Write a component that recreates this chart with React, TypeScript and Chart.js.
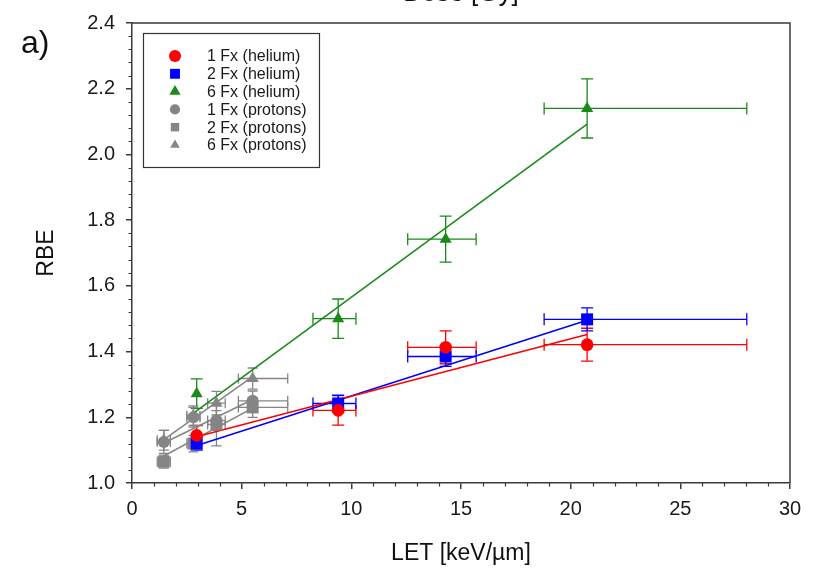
import React, { useEffect, useRef } from 'react';
import { Chart, registerables } from 'chart.js';

Chart.register(...registerables);

const FONT = '"Liberation Sans", Arial, Helvetica, sans-serif';

// ---- data ----
const LET_HE = [2.95, 9.4, 14.3, 20.75];
const LET_HE_XERR_LO = [0, 1.15, 1.73, 1.96];
const LET_HE_XERR_HI = [0, 0.81, 1.39, 7.28];
const RBE_HE_1FX = [1.145, 1.221, 1.413, 1.421];
const ERR_HE_1FX = [0.03, 0.045, 0.05, 0.05];
const RBE_HE_2FX = [1.12, 1.242, 1.385, 1.498];
const ERR_HE_2FX = [0.02, 0.025, 0.03, 0.035];
const RBE_HE_6FX = [1.272, 1.5, 1.742, 2.14];
const ERR_HE_6FX = [0.045, 0.06, 0.07, 0.09];

const LET_P = [1.45, 2.8, 3.85, 5.5];
const LET_P_XERR_LO = [0.3, 0.3, 0.4, 0.65];
const LET_P_XERR_HI = [0.3, 0.3, 0.4, 1.6];
const RBE_P_1FX = [1.125, 1.2, 1.19, 1.25];
const ERR_P_1FX = [0.035, 0.03, 0.03, 0.03];
const RBE_P_2FX = [1.065, 1.12, 1.178, 1.23];
const ERR_P_2FX = [0.02, 0.025, 0.065, 0.03];
const RBE_P_6FX = [1.13, 1.205, 1.243, 1.318];
const ERR_P_6FX = [0.03, 0.03, 0.036, 0.032];

const FIT_HE_X = [2.85, 20.75];
const FIT_HE_1FX = [1.139, 1.452];
const FIT_HE_2FX = [1.112, 1.495];
const FIT_HE_6FX = [1.215, 2.092];
const FIT_P_X = [1.45, 5.5];
const FIT_P_1FX = [1.122, 1.254];
const FIT_P_2FX = [1.082, 1.228];
const FIT_P_6FX = [1.132, 1.324];

const X_TICKS = [0, 5, 10, 15, 20, 25, 30];
const Y_TICKS = [1.0, 1.2, 1.4, 1.6, 1.8, 2.0, 2.2, 2.4];

const RED = '#ff0000';
const BLUE = '#0000ff';
const GREEN = '#1b8a1b';
const GREY = '#858585';
const AXIS = '#3a3a3a';

type Series = {
  label: string;
  x: number[];
  y: number[];
  err: number[];
  xlo: number[];
  xhi: number[];
  color: string;
  style: 'circle' | 'rect' | 'triangle';
  radius: number;
  fitX: number[];
  fitY: number[];
};

const SERIES: Series[] = [
  { label: '1 Fx (helium)', x: LET_HE, y: RBE_HE_1FX, err: ERR_HE_1FX, xlo: LET_HE_XERR_LO, xhi: LET_HE_XERR_HI, color: RED, style: 'circle', radius: 6.3, fitX: FIT_HE_X, fitY: FIT_HE_1FX },
  { label: '2 Fx (helium)', x: LET_HE, y: RBE_HE_2FX, err: ERR_HE_2FX, xlo: LET_HE_XERR_LO, xhi: LET_HE_XERR_HI, color: BLUE, style: 'rect', radius: 8.5, fitX: FIT_HE_X, fitY: FIT_HE_2FX },
  { label: '6 Fx (helium)', x: LET_HE, y: RBE_HE_6FX, err: ERR_HE_6FX, xlo: LET_HE_XERR_LO, xhi: LET_HE_XERR_HI, color: GREEN, style: 'triangle', radius: 7, fitX: FIT_HE_X, fitY: FIT_HE_6FX },
  { label: '1 Fx (protons)', x: LET_P, y: RBE_P_1FX, err: ERR_P_1FX, xlo: LET_P_XERR_LO, xhi: LET_P_XERR_HI, color: GREY, style: 'circle', radius: 6, fitX: FIT_P_X, fitY: FIT_P_1FX },
  { label: '2 Fx (protons)', x: LET_P, y: RBE_P_2FX, err: ERR_P_2FX, xlo: LET_P_XERR_LO, xhi: LET_P_XERR_HI, color: GREY, style: 'rect', radius: 8.5, fitX: FIT_P_X, fitY: FIT_P_2FX },
  { label: '6 Fx (protons)', x: LET_P, y: RBE_P_6FX, err: ERR_P_6FX, xlo: LET_P_XERR_LO, xhi: LET_P_XERR_HI, color: GREY, style: 'triangle', radius: 7, fitX: FIT_P_X, fitY: FIT_P_6FX },
];

function drawMarker(ctx: CanvasRenderingContext2D, style: string, x: number, y: number, r: number, color: string) {
  ctx.save();
  ctx.fillStyle = color;
  ctx.beginPath();
  if (style === 'circle') {
    ctx.arc(x, y, r, 0, Math.PI * 2);
  } else if (style === 'rect') {
    const s = r * Math.SQRT1_2;
    ctx.rect(x - s, y - s, 2 * s, 2 * s);
  } else {
    const a = (2 * Math.PI) / 3;
    ctx.moveTo(x, y - r);
    ctx.lineTo(x + Math.sin(a) * r, y - Math.cos(a) * r);
    ctx.lineTo(x + Math.sin(2 * a) * r, y - Math.cos(2 * a) * r);
    ctx.closePath();
  }
  ctx.fill();
  ctx.restore();
}

const errorBarPlugin = {
  id: 'errorBars',
  beforeDatasetsDraw(chart: any) {
    const { ctx, scales } = chart;
    const xs = scales.x;
    const ys = scales.y;
    chart.data.datasets.forEach((ds: any) => {
      const s: Series | undefined = ds._series;
      if (!s) return;
      ctx.save();
      ctx.strokeStyle = s.color;
      ctx.lineWidth = 1.3;
      const cap = s.color === GREY ? 5 : 6;
      s.x.forEach((xv, i) => {
        const yv = s.y[i];
        const px = xs.getPixelForValue(xv);
        const py = ys.getPixelForValue(yv);
        const yTop = ys.getPixelForValue(yv + s.err[i]);
        const yBot = ys.getPixelForValue(yv - s.err[i]);
        ctx.beginPath();
        ctx.moveTo(px, yTop);
        ctx.lineTo(px, yBot);
        ctx.moveTo(px - cap, yTop);
        ctx.lineTo(px + cap, yTop);
        ctx.moveTo(px - cap, yBot);
        ctx.lineTo(px + cap, yBot);
        ctx.stroke();
        if (s.xlo[i] > 0 || s.xhi[i] > 0) {
          const xL = xs.getPixelForValue(xv - s.xlo[i]);
          const xR = xs.getPixelForValue(xv + s.xhi[i]);
          ctx.beginPath();
          ctx.moveTo(xL, py);
          ctx.lineTo(xR, py);
          ctx.moveTo(xL, py - cap);
          ctx.lineTo(xL, py + cap);
          ctx.moveTo(xR, py - cap);
          ctx.lineTo(xR, py + cap);
          ctx.stroke();
        }
      });
      ctx.restore();
    });
  },
};

const decorPlugin = {
  id: 'decor',
  afterDraw(chart: any) {
    const { ctx, chartArea, scales } = chart;
    const { left, right, top, bottom } = chartArea;
    ctx.save();
    // frame top & right
    ctx.strokeStyle = AXIS;
    ctx.lineWidth = 1.5;
    ctx.beginPath();
    ctx.moveTo(left, top);
    ctx.lineTo(right, top);
    ctx.lineTo(right, bottom);
    ctx.stroke();
    // minor ticks
    ctx.lineWidth = 1.2;
    ctx.beginPath();
    for (let v = 0; v <= 30; v += 1) {
      if (v % 5 === 0) continue;
      const px = Math.round(scales.x.getPixelForValue(v)) + 0.5;
      ctx.moveTo(px, bottom);
      ctx.lineTo(px, bottom + 3.5);
    }
    for (let k = 0; k <= 35; k++) {
      if (k % 5 === 0) continue;
      const py = Math.round(scales.y.getPixelForValue(1 + k * 0.04)) + 0.5;
      ctx.moveTo(left, py);
      ctx.lineTo(left - 3.5, py);
    }
    ctx.stroke();

    // legend
    const bx = 143, by = 33, bw = 176, bh = 134;
    ctx.fillStyle = '#ffffff';
    ctx.fillRect(bx, by, bw, bh);
    ctx.strokeStyle = '#333';
    ctx.lineWidth = 1.2;
    ctx.strokeRect(bx + 0.5, by + 0.5, bw, bh);
    ctx.font = `16px ${FONT}`;
    ctx.textBaseline = 'middle';
    ctx.textAlign = 'left';
    SERIES.forEach((s, i) => {
      const y = 56 + i * 17.8;
      const r = s.style === 'circle' ? 6 : s.style === 'rect' ? 7 : 6.5;
      drawMarker(ctx, s.style, 175, y, s.color === GREY ? r * 0.85 : r, s.color);
      ctx.fillStyle = '#1a1a1a';
      ctx.fillText(s.label, 207, y + 1);
    });

    // panel label
    ctx.fillStyle = '#111';
    ctx.font = `32px ${FONT}`;
    ctx.textBaseline = 'alphabetic';
    ctx.fillText('a)', 21, 53);

    // top axis title (cut off by the image edge)
    ctx.font = `26px ${FONT}`;
    ctx.textAlign = 'center';
    ctx.fillText('Dose [Gy]', 461, 1);
    ctx.restore();
  },
};

export default function App() {
  const ref = useRef<HTMLCanvasElement>(null);

  useEffect(() => {
    const canvas = ref.current;
    if (!canvas) return;
    const datasets: any[] = [];
    SERIES.forEach((s) => {
      datasets.push({
        label: s.label + ' fit',
        data: s.fitX.map((x, i) => ({ x, y: s.fitY[i] })),
        showLine: true,
        borderColor: s.color,
        borderWidth: 1.6,
        pointRadius: 0,
        fill: false,
        order: 2,
      });
    });
    SERIES.forEach((s) => {
      datasets.push({
        label: s.label,
        data: s.x.map((x, i) => ({ x, y: s.y[i] })),
        showLine: false,
        pointStyle: s.style,
        pointRadius: s.radius,
        pointBackgroundColor: s.color,
        pointBorderColor: s.color,
        pointBorderWidth: 0,
        backgroundColor: s.color,
        borderColor: s.color,
        order: 1,
        _series: s,
      });
    });

    const chart = new Chart(canvas, {
      type: 'scatter',
      data: { datasets },
      plugins: [errorBarPlugin, decorPlugin],
      options: {
        responsive: false,
        animation: false,
        devicePixelRatio: 1,
        layout: { padding: { top: 21, right: 28, left: 0, bottom: 0 } },
        plugins: {
          legend: { display: false },
          tooltip: { enabled: false },
          title: { display: false },
        },
        scales: {
          x: {
            type: 'linear',
            min: 0,
            max: 30,
            afterFit: (scale: any) => { scale.height = 87; },
            afterBuildTicks: (scale: any) => { scale.ticks = X_TICKS.map((v) => ({ value: v })); },
            ticks: {
              color: '#1a1a1a',
              font: { family: FONT, size: 20 },
              padding: 8,
              maxRotation: 0,
              callback: (v: any) => String(v),
            },
            grid: { display: true, drawOnChartArea: false, drawTicks: true, tickLength: 6, color: AXIS, lineWidth: 1.5 },
            border: { display: true, color: AXIS, width: 1.5 },
            title: {
              display: true,
              text: 'LET [keV/µm]',
              color: '#111',
              font: { family: FONT, size: 23 },
              padding: { top: 0, bottom: 3 },
            },
          },
          y: {
            type: 'linear',
            min: 1.0,
            max: 2.4,
            afterFit: (scale: any) => { scale.width = 132; },
            afterBuildTicks: (scale: any) => { scale.ticks = Y_TICKS.map((v) => ({ value: v })); },
            ticks: {
              color: '#1a1a1a',
              font: { family: FONT, size: 20 },
              padding: 11,
              callback: (v: any) => Number(v).toFixed(1),
            },
            grid: { display: true, drawOnChartArea: false, drawTicks: true, tickLength: 6, color: AXIS, lineWidth: 1.5 },
            border: { display: true, color: AXIS, width: 1.5 },
            title: {
              display: true,
              text: 'RBE',
              color: '#111',
              font: { family: FONT, size: 23 },
              padding: { top: 33, bottom: 0 },
            },
          },
        },
      } as any,
    });
    return () => chart.destroy();
  }, []);

  return (
    <div style={{ position: 'absolute', left: 0, top: 0, width: 818, height: 570, background: '#ffffff' }}>
      <canvas ref={ref} width={818} height={570} style={{ display: 'block' }} />
    </div>
  );
}
